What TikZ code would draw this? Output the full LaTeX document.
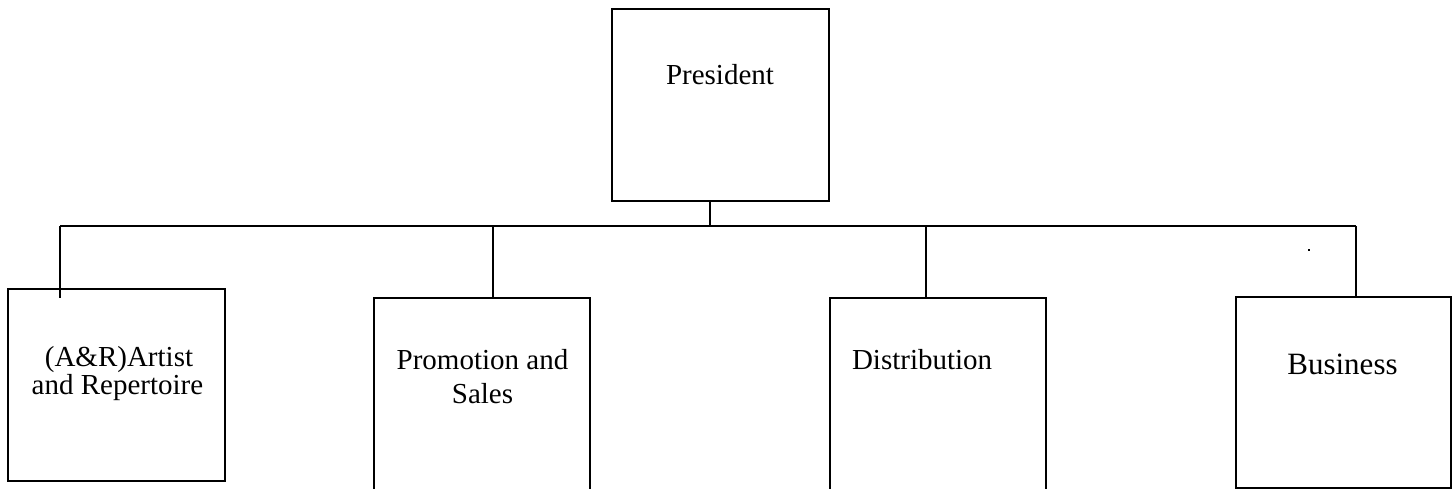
\documentclass[tikz,border=0pt]{standalone}
\usepackage{fontspec}
\setmainfont{Liberation Serif}
\begin{document}
\begin{tikzpicture}[x=1pt,y=-1pt,
  box/.style={draw=black,line width=1.8pt,fill=white,inner sep=0pt,outer sep=0pt},
  conn/.style={draw=black,line width=1.8pt},
  lbl/.style={inner sep=0pt,outer sep=0pt,anchor=base,font=\fontsize{29}{34}\selectfont},
  lblbig/.style={inner sep=0pt,outer sep=0pt,anchor=base,font=\fontsize{31}{36}\selectfont}]
\useasboundingbox (0,0) rectangle (1452,489);
% boxes
\node[box,minimum width=217pt,minimum height=192pt] (pres) at (720.5,105) {};
\node[box,minimum width=217pt,minimum height=192pt] (ar) at (116.5,385) {};
\node[box,minimum width=216pt,minimum height=200pt] (prom) at (482,398) {};
\node[box,minimum width=216pt,minimum height=200pt] (dist) at (938,398) {};
\node[box,minimum width=215pt,minimum height=191pt] (bus) at (1343.5,392.5) {};
% labels
\node[lbl] (tpres) at (720,85) {President};
\node[lbl] (tar1) at (119,366) {(A\&R)Artist};
\node[lbl] (tar2) at (117.5,394) {and Repertoire};
\node[lbl] (tprom1) at (482.5,369) {Promotion and};
\node[lbl] (tprom2) at (482.5,403) {Sales};
\node[lbl,anchor=base west] (tdist) at (852,369) {Distribution};
\node[lblbig] (tbus) at (1342.5,374) {Business};
% connector junctions
\coordinate (jP) at (710,226);
\coordinate (jA) at (60,226);
\coordinate (jB) at (493,226);
\coordinate (jC) at (926,226);
\coordinate (jD) at (1356,226);
\coordinate (eA) at (60,298);
% connectors
\draw[conn] (jA) -- (jD);
\draw[conn] (jP) -- (jP |- pres.south);
\draw[conn] (jA) -- (eA);
\draw[conn] (jB) -- (jB |- prom.north);
\draw[conn] (jC) -- (jC |- dist.north);
\draw[conn] (jD) -- (jD |- bus.north);
% stray dot
\node[fill=black,inner sep=0pt,minimum size=2pt] (dot) at (1309,250) {};
\end{tikzpicture}
\end{document}
